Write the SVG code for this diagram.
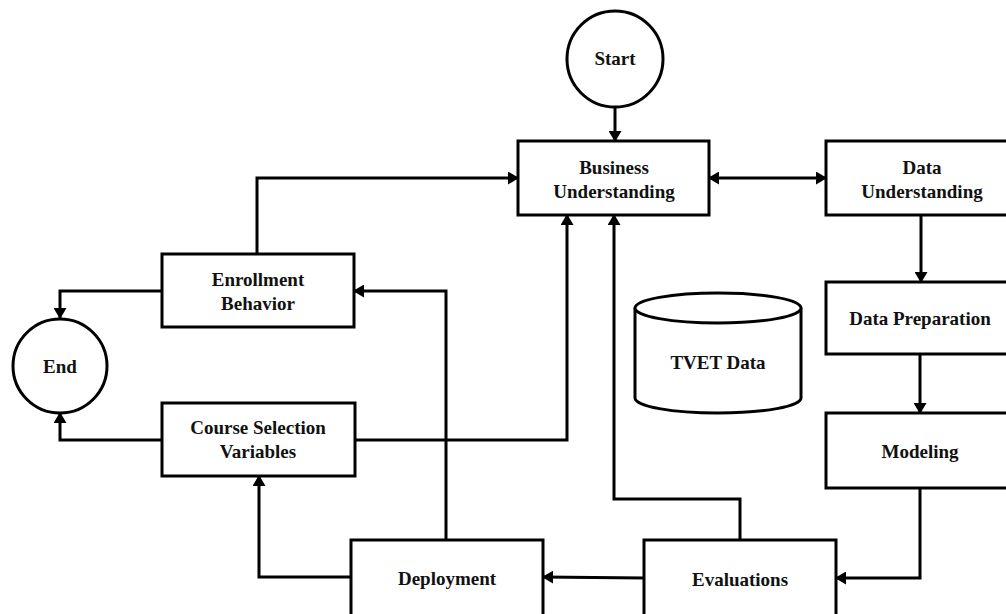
<svg xmlns="http://www.w3.org/2000/svg" width="1006" height="614" viewBox="0 0 1006 614">
<style>
.box{fill:#fff;stroke:#000;stroke-width:3}
.t{font-family:"Liberation Serif","Times New Roman",serif;font-weight:bold;font-size:19px;fill:#111;text-anchor:middle}
.c{fill:none;stroke:#000;stroke-width:3;marker-end:url(#ah)}
</style>
<defs>
<marker id="ah" markerUnits="userSpaceOnUse" markerWidth="11" markerHeight="13" refX="10" refY="6.5" orient="auto-start-reverse">
<path d="M0,0 L11,6.5 L0,13 z" fill="#000"/>
</marker>
</defs>
<rect width="1006" height="614" fill="#fff"/>
<g id="connectors">
<path class="c" d="M615,107 V141"/>
<path class="c" d="M709,178 H826" style="marker-start:url(#ah)"/>
<path class="c" d="M921,215 V282"/>
<path class="c" d="M920,355 V413"/>
<path class="c" d="M920,488 V578 H836"/>
<path class="c" d="M644,578 L543,577"/>
<path class="c" d="M740,540 V499 H614 V215"/>
<path class="c" d="M446,540 V291 H354"/>
<path class="c" d="M351,577 H259 V476"/>
<path class="c" d="M355,440 H567 V215"/>
<path class="c" d="M257,254 V178 H518"/>
<path class="c" d="M162,291 H60 V318"/>
<path class="c" d="M162,440 H60 V413"/>
</g>
<g id="start">
<circle class="box" cx="615" cy="59" r="48"/>
<text class="t" x="615" y="65">Start</text>
</g>
<g id="end">
<circle class="box" cx="60" cy="366" r="47"/>
<text class="t" x="60" y="373">End</text>
</g>
<g id="business">
<rect class="box" x="518" y="141" width="191" height="74"/>
<text class="t" x="614" y="174">Business</text>
<text class="t" x="614" y="198">Understanding</text>
</g>
<g id="dataUnderstanding">
<rect class="box" x="826" y="141" width="192" height="74"/>
<text class="t" x="922" y="174">Data</text>
<text class="t" x="922" y="198">Understanding</text>
</g>
<g id="dataPreparation">
<rect class="box" x="826" y="282" width="192" height="72"/>
<text class="t" x="920" y="325">Data Preparation</text>
</g>
<g id="modeling">
<rect class="box" x="826" y="413" width="192" height="75"/>
<text class="t" x="920" y="458">Modeling</text>
</g>
<g id="evaluations">
<rect class="box" x="644" y="540" width="192" height="80"/>
<text class="t" x="740" y="586">Evaluations</text>
</g>
<g id="deployment">
<rect class="box" x="351" y="540" width="192" height="80"/>
<text class="t" x="447" y="585">Deployment</text>
</g>
<g id="enrollment">
<rect class="box" x="162" y="254" width="192" height="73"/>
<text class="t" x="258" y="286">Enrollment</text>
<text class="t" x="258" y="310">Behavior</text>
</g>
<g id="courseSelection">
<rect class="box" x="162" y="403" width="193" height="73"/>
<text class="t" x="258" y="434">Course Selection</text>
<text class="t" x="258" y="458">Variables</text>
</g>
<g id="tvetData">
<path class="box" d="M635,308 V398 A83,15 0 0 0 801,398 V308"/>
<ellipse class="box" cx="718" cy="308" rx="83" ry="15"/>
<text class="t" x="718" y="369">TVET Data</text>
</g>
</svg>
